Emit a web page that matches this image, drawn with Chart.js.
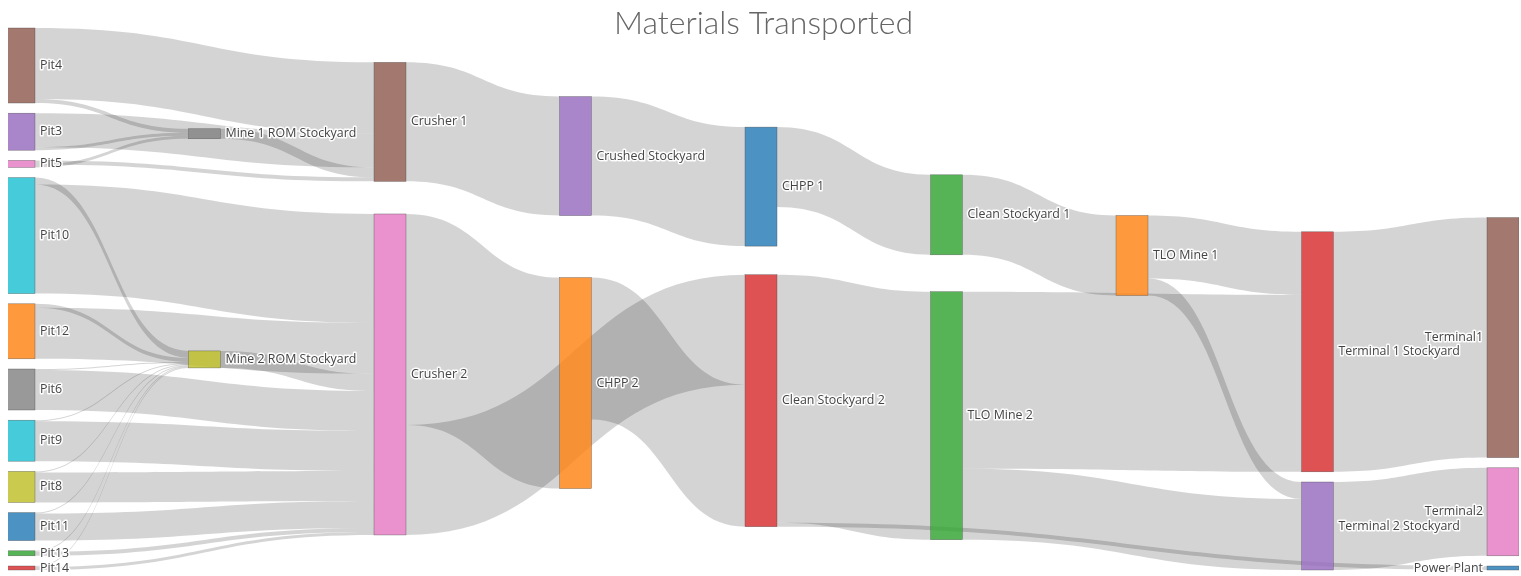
<!DOCTYPE html>
<html>
<head>
<meta charset="utf-8">
<title>Materials Transported</title>
<script src="https://cdn.jsdelivr.net/npm/chart.js@4.4.1/dist/chart.umd.min.js"></script>
<style>
  html, body { margin: 0; padding: 0; background: #ffffff; }
  #wrap { width: 1521px; height: 576px; }
</style>
</head>
<body>
<div id="wrap"><canvas id="chart" width="1521" height="576"></canvas></div>
<script>
// ---------------- DATA ----------------
const chartTitle = 'Materials Transported';

const nodeNames = [
  'Pit4', 'Pit3', 'Pit5', 'Pit10', 'Pit12', 'Pit6', 'Pit9', 'Pit8', 'Pit11', 'Pit13', 'Pit14',
  'Mine 1 ROM Stockyard', 'Mine 2 ROM Stockyard',
  'Crusher 1', 'Crusher 2',
  'Crushed Stockyard', 'CHPP 2',
  'CHPP 1', 'Clean Stockyard 2',
  'Clean Stockyard 1', 'TLO Mine 2',
  'TLO Mine 1',
  'Terminal 1 Stockyard', 'Terminal 2 Stockyard',
  'Terminal1', 'Terminal2', 'Power Plant'
];

const linkSources = [
  'Pit4', 'Pit4', 'Pit3', 'Pit3', 'Pit5', 'Pit5', 'Mine 1 ROM Stockyard',
  'Pit10', 'Pit10', 'Pit12', 'Pit12', 'Pit6', 'Pit6', 'Pit9', 'Pit9', 'Pit8', 'Pit8',
  'Pit11', 'Pit11', 'Pit13', 'Pit13', 'Pit14', 'Pit14', 'Mine 2 ROM Stockyard',
  'Crusher 1', 'Crusher 2', 'Crusher 2', 'Crushed Stockyard', 'CHPP 1', 'CHPP 2',
  'Clean Stockyard 1', 'Clean Stockyard 2', 'Clean Stockyard 2',
  'TLO Mine 1', 'TLO Mine 1', 'TLO Mine 2', 'TLO Mine 2',
  'Terminal 1 Stockyard', 'Terminal 2 Stockyard'
];
const linkTargets = [
  'Mine 1 ROM Stockyard', 'Crusher 1', 'Mine 1 ROM Stockyard', 'Crusher 1', 'Mine 1 ROM Stockyard', 'Crusher 1', 'Crusher 1',
  'Mine 2 ROM Stockyard', 'Crusher 2', 'Mine 2 ROM Stockyard', 'Crusher 2', 'Mine 2 ROM Stockyard', 'Crusher 2',
  'Mine 2 ROM Stockyard', 'Crusher 2', 'Mine 2 ROM Stockyard', 'Crusher 2',
  'Mine 2 ROM Stockyard', 'Crusher 2', 'Mine 2 ROM Stockyard', 'Crusher 2', 'Mine 2 ROM Stockyard', 'Crusher 2', 'Crusher 2',
  'Crushed Stockyard', 'CHPP 2', 'Clean Stockyard 2', 'CHPP 1', 'Clean Stockyard 1', 'Clean Stockyard 2',
  'TLO Mine 1', 'TLO Mine 2', 'Power Plant',
  'Terminal 1 Stockyard', 'Terminal 2 Stockyard', 'Terminal 1 Stockyard', 'Terminal 2 Stockyard',
  'Terminal1', 'Terminal2'
];
const linkValues = [
  4, 71, 3, 34, 3, 4, 10,
  7, 109, 4, 51, 1, 40, 1, 40, 1, 30,
  1, 27, 1, 4, 1, 3, 17,
  119, 211, 110, 119, 80, 142,
  80, 248, 4,
  63, 17, 177, 71,
  240, 88
];

// ---------------- STYLE ----------------
const nodeColors = [
  '#8c564b', '#9467bd', '#e377c2', '#17becf', '#ff7f0e', '#7f7f7f', '#17becf', '#bcbd22', '#1f77b4', '#2ca02c', '#d62728',
  '#7f7f7f', '#bcbd22',
  '#8c564b', '#e377c2',
  '#9467bd', '#ff7f0e',
  '#1f77b4', '#d62728',
  '#2ca02c', '#2ca02c',
  '#ff7f0e',
  '#d62728', '#9467bd',
  '#8c564b', '#e377c2', '#1f77b4'
];
const NODE_ALPHA = 0.8;
const LINK_COLOR = 'rgba(0,0,0,0.17)';
const NODE_PAD = 10.2;          // vertical gap between nodes (flow units)
const NODE_THICKNESS = 0.1725;  // node width (column units)
const ITERATIONS = 40;

// ---------------- SANKEY LAYOUT (d3-sankey style, fixed node order) ----------------
function sumVal(arr) { return arr.reduce((s, l) => s + l.value, 0); }
function center(n) { return n.y + n.dy / 2; }

function buildSankey() {
  const nodes = nodeNames.map((name, i) => ({ name, index: i, color: nodeColors[i], sourceLinks: [], targetLinks: [] }));
  const byName = {};
  nodes.forEach(n => { byName[n.name] = n; });
  const links = linkValues.map((v, i) => ({ index: i, source: byName[linkSources[i]], target: byName[linkTargets[i]], value: v }));
  links.forEach(l => { l.source.sourceLinks.push(l); l.target.targetLinks.push(l); });
  nodes.forEach(n => { n.value = Math.max(sumVal(n.sourceLinks), sumVal(n.targetLinks)); });

  let remaining = nodes.slice(), x = 0;
  while (remaining.length) {
    const next = [];
    remaining.forEach(n => {
      n.col = x;
      n.sourceLinks.forEach(l => { if (next.indexOf(l.target) < 0) next.push(l.target); });
    });
    remaining = next;
    ++x;
  }
  nodes.forEach(n => { if (!n.sourceLinks.length) n.col = x - 1; });
  const nCols = x;
  const columns = [];
  for (let c = 0; c < nCols; c++) columns.push([]);
  nodes.forEach(n => columns[n.col].push(n));

  const extent = Math.max(...columns.map(col => col.reduce((s, n) => s + n.value, 0) + (col.length - 1) * NODE_PAD));
  const ky = Math.min(...columns.map(col => (extent - (col.length - 1) * NODE_PAD) / col.reduce((s, n) => s + n.value, 0)));

  columns.forEach(col => col.forEach((n, i) => { n.y = i; n.dy = n.value * ky; }));
  links.forEach(l => { l.dy = l.value * ky; });

  function resolveCollisions() {
    columns.forEach(col => {
      let y0 = 0, node, dy;
      for (let i = 0; i < col.length; i++) {
        node = col[i];
        dy = y0 - node.y;
        if (dy > 0) node.y += dy;
        y0 = node.y + node.dy + NODE_PAD;
      }
      dy = y0 - NODE_PAD - extent;
      if (dy > 0) {
        y0 = node.y -= dy;
        for (let i = col.length - 2; i >= 0; --i) {
          node = col[i];
          dy = node.y + node.dy + NODE_PAD - y0;
          if (dy > 0) node.y -= dy;
          y0 = node.y;
        }
      }
    });
  }
  function relaxLeftToRight(alpha) {
    columns.forEach(col => col.forEach(n => {
      if (n.targetLinks.length) {
        const yc = n.targetLinks.reduce((s, l) => s + center(l.source) * l.value, 0) / sumVal(n.targetLinks);
        n.y += (yc - center(n)) * alpha;
      }
    }));
  }
  function relaxRightToLeft(alpha) {
    columns.slice().reverse().forEach(col => col.forEach(n => {
      if (n.sourceLinks.length) {
        const yc = n.sourceLinks.reduce((s, l) => s + center(l.target) * l.value, 0) / sumVal(n.sourceLinks);
        n.y += (yc - center(n)) * alpha;
      }
    }));
  }

  resolveCollisions();
  for (let alpha = 1, it = ITERATIONS; it > 0; --it) {
    relaxRightToLeft(alpha *= 0.99);
    resolveCollisions();
    relaxLeftToRight(alpha);
    resolveCollisions();
  }

  nodes.forEach(n => {
    n.sourceLinks.sort((a, b) => (center(a.target) - center(b.target)) || (a.index - b.index));
    n.targetLinks.sort((a, b) => (center(a.source) - center(b.source)) || (a.index - b.index));
  });
  nodes.forEach(n => {
    let sy = 0, ty = 0;
    n.sourceLinks.forEach(l => { l.sy = sy; sy += l.dy; });
    n.targetLinks.forEach(l => { l.ty = ty; ty += l.dy; });
  });
  return { nodes, links, extent, nCols };
}

const sankey = buildSankey();

function withAlpha(hex, a) {
  const r = parseInt(hex.slice(1, 3), 16), g = parseInt(hex.slice(3, 5), 16), b = parseInt(hex.slice(5, 7), 16);
  return `rgba(${r},${g},${b},${a})`;
}

const sankeyPlugin = {
  id: 'sankeyDraw',
  afterDraw(chart) {
    const { ctx, chartArea } = chart;
    const xs = chart.scales.x, ys = chart.scales.y;
    const lastCol = sankey.nCols - 1;
    const px = v => xs.getPixelForValue(v);
    const py = v => ys.getPixelForValue(v);

    ctx.save();
    ctx.beginPath();
    ctx.rect(chartArea.left, 0, chartArea.right - chartArea.left, chart.height);
    ctx.clip();

    ctx.fillStyle = LINK_COLOR;
    sankey.links.forEach(l => {
      const x0 = px(l.source.col + NODE_THICKNESS);
      const x1 = px(l.target.col);
      const xm = x0 + (x1 - x0) * 0.5;
      const y0a = py(l.source.y + l.sy), y0b = py(l.source.y + l.sy + l.dy);
      const y1a = py(l.target.y + l.ty), y1b = py(l.target.y + l.ty + l.dy);
      ctx.beginPath();
      ctx.moveTo(x0, y0a);
      ctx.bezierCurveTo(xm, y0a, xm, y1a, x1, y1a);
      ctx.lineTo(x1, y1b);
      ctx.bezierCurveTo(xm, y1b, xm, y0b, x0, y0b);
      ctx.closePath();
      ctx.fill();
    });

    sankey.nodes.forEach(n => {
      const xl = px(n.col), xr = px(n.col + NODE_THICKNESS);
      const yt = py(n.y), yb = py(n.y + n.dy);
      ctx.fillStyle = withAlpha(n.color, NODE_ALPHA);
      ctx.fillRect(xl, yt, xr - xl, yb - yt);
      ctx.lineWidth = 0.5;
      ctx.strokeStyle = 'rgba(68,68,68,0.7)';
      ctx.strokeRect(xl, yt, xr - xl, yb - yt);
    });
    ctx.restore();

    ctx.save();
    ctx.font = '12.4px "Open Sans", "DejaVu Sans", sans-serif';
    ctx.textBaseline = 'middle';
    ctx.lineJoin = 'round';
    sankey.nodes.forEach(n => {
      const yc = py(n.y + n.dy / 2);
      let tx;
      if (n.col === lastCol) {
        ctx.textAlign = 'right';
        tx = px(n.col) - 4;
      } else {
        ctx.textAlign = 'left';
        tx = px(n.col + NODE_THICKNESS) + 5;
      }
      ctx.strokeStyle = 'rgba(255,255,255,0.95)';
      ctx.lineWidth = 3;
      ctx.strokeText(n.name, tx, yc);
      ctx.fillStyle = '#444';
      ctx.fillText(n.name, tx, yc);
    });
    ctx.restore();
  }
};

new Chart(document.getElementById('chart').getContext('2d'), {
  type: 'scatter',
  data: { datasets: [] },
  options: {
    responsive: false,
    animation: false,
    devicePixelRatio: 1,
    layout: { padding: { left: 8, right: 2, top: 0, bottom: 6 } },
    plugins: {
      legend: { display: false },
      tooltip: { enabled: false },
      title: {
        display: true,
        text: chartTitle,
        color: '#666',
        font: { family: 'Lato, "Open Sans", sans-serif', size: 32, weight: '300', lineHeight: 0.28125 },
        padding: { top: 19, bottom: 0 }
      }
    },
    scales: {
      x: { type: 'linear', min: 0.027, max: (sankey.nCols - 1) + NODE_THICKNESS, display: false },
      y: { type: 'linear', reverse: true, min: 0, max: sankey.extent, display: false }
    }
  },
  plugins: [sankeyPlugin]
});
</script>
</body>
</html>
